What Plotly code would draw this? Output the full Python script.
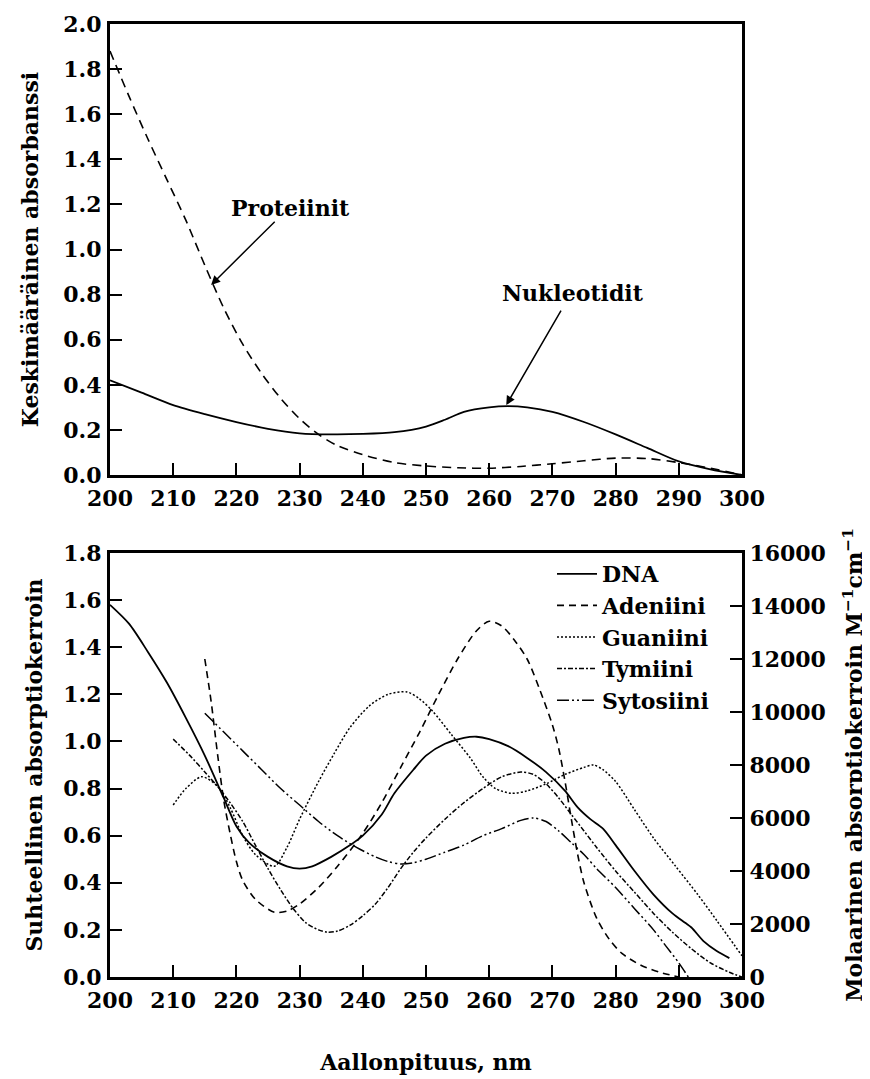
import plotly.graph_objects as go

# ---------------- top panel data ----------------
prot_x = [200, 203, 206, 209, 212, 215, 218, 221, 224, 227, 230, 233, 236, 240, 245, 250, 255, 260, 265, 270, 275, 280, 285, 290, 295, 300]
prot_y = [1.88, 1.68, 1.49, 1.31, 1.13, 0.93, 0.74, 0.58, 0.45, 0.34, 0.25, 0.18, 0.13, 0.09, 0.055, 0.04, 0.032, 0.03, 0.038, 0.05, 0.063, 0.075, 0.073, 0.055, 0.03, 0.0]
nucl_x = [200, 205, 210, 215, 220, 225, 230, 235, 240, 245, 250, 253, 256, 260, 263, 266, 270, 275, 280, 285, 290, 295, 300]
nucl_y = [0.42, 0.365, 0.31, 0.27, 0.235, 0.205, 0.185, 0.18, 0.182, 0.19, 0.215, 0.245, 0.28, 0.30, 0.305, 0.30, 0.28, 0.235, 0.18, 0.12, 0.06, 0.025, 0.0]

# ---------------- bottom panel data ----------------
dna_x = [200, 203, 206, 209, 212, 215, 218, 220, 222, 225, 228, 230, 232, 235, 238, 240, 243, 245, 248, 250, 253, 256, 258, 260, 263, 266, 269, 272, 274, 276, 278, 280, 283, 286, 289, 291, 292, 294, 296, 298]
dna_y = [1.58, 1.50, 1.38, 1.25, 1.10, 0.94, 0.76, 0.64, 0.57, 0.51, 0.47, 0.46, 0.47, 0.51, 0.56, 0.60, 0.69, 0.78, 0.88, 0.94, 0.99, 1.015, 1.02, 1.01, 0.98, 0.93, 0.87, 0.79, 0.72, 0.67, 0.63, 0.56, 0.45, 0.35, 0.27, 0.23, 0.21, 0.15, 0.11, 0.08]

ade_x = [215, 216, 217, 218, 219, 220, 221, 223, 226, 228, 230, 233, 236, 240, 243, 246, 249, 252, 255, 258, 260, 262, 264, 266, 268, 270, 271, 272, 273, 274, 275, 277, 279, 281, 284, 287, 290]
ade_y = [1.35, 1.17, 0.95, 0.75, 0.61, 0.49, 0.41, 0.33, 0.275, 0.28, 0.31, 0.38, 0.47, 0.61, 0.74, 0.89, 1.04, 1.20, 1.35, 1.47, 1.51, 1.49, 1.43, 1.35, 1.22, 1.07, 0.97, 0.83, 0.67, 0.52, 0.40, 0.25, 0.16, 0.10, 0.05, 0.02, 0.0]

gua_x = [210, 212, 214.5, 217, 219, 221, 223, 226, 228, 230, 233, 235.5, 238, 241, 244, 247, 249, 251, 254, 257, 259, 261, 263.5, 266, 269, 272, 275, 276.5, 278, 280, 283, 286, 289.5, 293, 296, 300]
gua_y = [0.73, 0.80, 0.85, 0.81, 0.72, 0.60, 0.52, 0.47, 0.55, 0.67, 0.83, 0.95, 1.06, 1.15, 1.20, 1.21, 1.18, 1.13, 1.03, 0.93, 0.85, 0.80, 0.78, 0.79, 0.82, 0.86, 0.89, 0.90, 0.88, 0.83, 0.71, 0.59, 0.47, 0.35, 0.24, 0.09]

thy_x = [210, 213, 215, 217, 219, 221, 223, 225, 227, 229, 231, 233, 234.5, 236, 238, 240, 242, 244, 246, 248, 250, 253, 256, 259, 262, 265, 267, 269, 271, 273, 275, 277, 280, 283, 286, 289, 292, 295, 298, 300]
thy_y = [1.01, 0.93, 0.87, 0.81, 0.74, 0.66, 0.56, 0.46, 0.37, 0.29, 0.23, 0.20, 0.19, 0.195, 0.22, 0.26, 0.31, 0.38, 0.46, 0.53, 0.59, 0.67, 0.74, 0.80, 0.85, 0.87, 0.86, 0.82, 0.76, 0.69, 0.62, 0.55, 0.45, 0.36, 0.27, 0.19, 0.12, 0.06, 0.02, 0.0]

cyt_x = [215, 218, 221, 224, 227, 230, 233, 236, 239, 242, 244, 246, 248, 250, 253, 256, 259, 262, 265, 267, 269, 271, 273, 275, 277, 280, 283, 286, 288, 290, 291.5]
cyt_y = [1.12, 1.04, 0.96, 0.88, 0.80, 0.73, 0.66, 0.60, 0.55, 0.51, 0.49, 0.48, 0.485, 0.50, 0.53, 0.56, 0.60, 0.63, 0.665, 0.675, 0.66, 0.62, 0.57, 0.52, 0.46, 0.38, 0.29, 0.20, 0.13, 0.06, 0.0]

x_ticks = list(range(200, 301, 10))
labels = ["DNA", "Adeniini", "Guaniini", "Tymiini", "Sytosiini"]

FONT = dict(family="DejaVu Serif", size=22, color="black", weight="bold")
W, H = 870, 1079
OFF = 8  # page body margin of the browser

def px_x(p):
    return (p - OFF) / W

def px_y(p):
    return 1 - (p - OFF) / H

fig = go.Figure()

line_kw = dict(shape="spline", smoothing=0.8)

fig.add_trace(go.Scatter(x=prot_x, y=prot_y, mode="lines", showlegend=False,
                         line=dict(color="black", width=1.6, dash="9px,6px", **line_kw),
                         xaxis="x", yaxis="y"))
fig.add_trace(go.Scatter(x=nucl_x, y=nucl_y, mode="lines", showlegend=False,
                         line=dict(color="black", width=1.8, **line_kw),
                         xaxis="x", yaxis="y"))

styles = [
    dict(dash="solid", width=1.8),
    dict(dash="7px,5px", width=1.6),
    dict(dash="2px,2px", width=1.5),
    dict(dash="5px,2px,2px,2px", width=1.5),
    dict(dash="12px,3px,2px,3px,2px,3px", width=1.5),
]
series = [(dna_x, dna_y), (ade_x, ade_y), (gua_x, gua_y), (thy_x, thy_y), (cyt_x, cyt_y)]
for (sx, sy), name, st in zip(series, labels, styles):
    fig.add_trace(go.Scatter(x=sx, y=sy, mode="lines", name=name,
                             line=dict(color="black", **st, **line_kw),
                             xaxis="x2", yaxis="y2"))
# invisible trace to activate right axis
fig.add_trace(go.Scatter(x=[200], y=[0], mode="lines", showlegend=False, hoverinfo="skip",
                         line=dict(color="rgba(0,0,0,0)"), xaxis="x2", yaxis="y3"))

axis_common = dict(showline=True, linecolor="black", linewidth=3, ticks="inside",
                   ticklen=12, tickwidth=1.5, tickcolor="black", showgrid=False,
                   zeroline=False, tickfont=FONT, automargin=False)

xdom = [px_x(110), px_x(742)]
fig.update_layout(
    width=W, height=H,
    margin=dict(l=0, r=0, t=0, b=0),
    paper_bgcolor="white", plot_bgcolor="white",
    font=FONT,
    xaxis=dict(domain=xdom, range=[200, 300], tickvals=x_ticks, anchor="y", mirror=True,
               ticklabelstandoff=2, **axis_common),
    yaxis=dict(domain=[px_y(475), px_y(24)], range=[0, 2.0], dtick=0.2, tickformat=".1f",
               anchor="x", mirror=True, ticklabelstandoff=1,
               title=dict(text="Keskimääräinen absorbanssi", font=FONT, standoff=19),
               **axis_common),
    xaxis2=dict(domain=xdom, range=[200, 300], tickvals=x_ticks, anchor="y2", mirror=True,
                ticklabelstandoff=2,
                title=dict(text="Aallonpituus, nm", font=FONT, standoff=43),
                **axis_common),
    yaxis2=dict(domain=[px_y(977), px_y(553)], range=[0, 1.8], dtick=0.2, tickformat=".1f",
                anchor="x2", ticklabelstandoff=1,
                title=dict(text="Suhteellinen absorptiokerroin", font=FONT, standoff=15),
                **axis_common),
    yaxis3=dict(range=[0, 16000], dtick=2000, tickformat="d", overlaying="y2", side="right",
                anchor="x2", ticklabelstandoff=0,
                title=dict(text="Molaarinen absorptiokerroin M<sup>−1</sup>cm<sup>−1</sup>",
                           font=FONT, standoff=22),
                **axis_common),
    legend=dict(x=px_x(552), y=px_y(553), xanchor="left", yanchor="top",
                bgcolor="rgba(0,0,0,0)", font=FONT, tracegroupgap=0,
                itemwidth=40),
    showlegend=True,
)

# top panel annotations
fig.add_annotation(x=228.5, y=1.184, xref="x", yref="y", text="Proteiinit", showarrow=False,
                   font=FONT)
fig.add_annotation(x=216.0, y=0.843, ax=226.3, ay=1.13, xref="x", yref="y", axref="x", ayref="y",
                   text="", showarrow=True, arrowhead=2, arrowsize=1.2, arrowwidth=1.5,
                   arrowcolor="black")
fig.add_annotation(x=273.3, y=0.807, xref="x", yref="y", text="Nukleotidit", showarrow=False,
                   font=FONT)
fig.add_annotation(x=262.7, y=0.31, ax=271.5, ay=0.736, xref="x", yref="y", axref="x", ayref="y",
                   text="", showarrow=True, arrowhead=2, arrowsize=1.2, arrowwidth=1.5,
                   arrowcolor="black")

fig.write_html("out.html")
